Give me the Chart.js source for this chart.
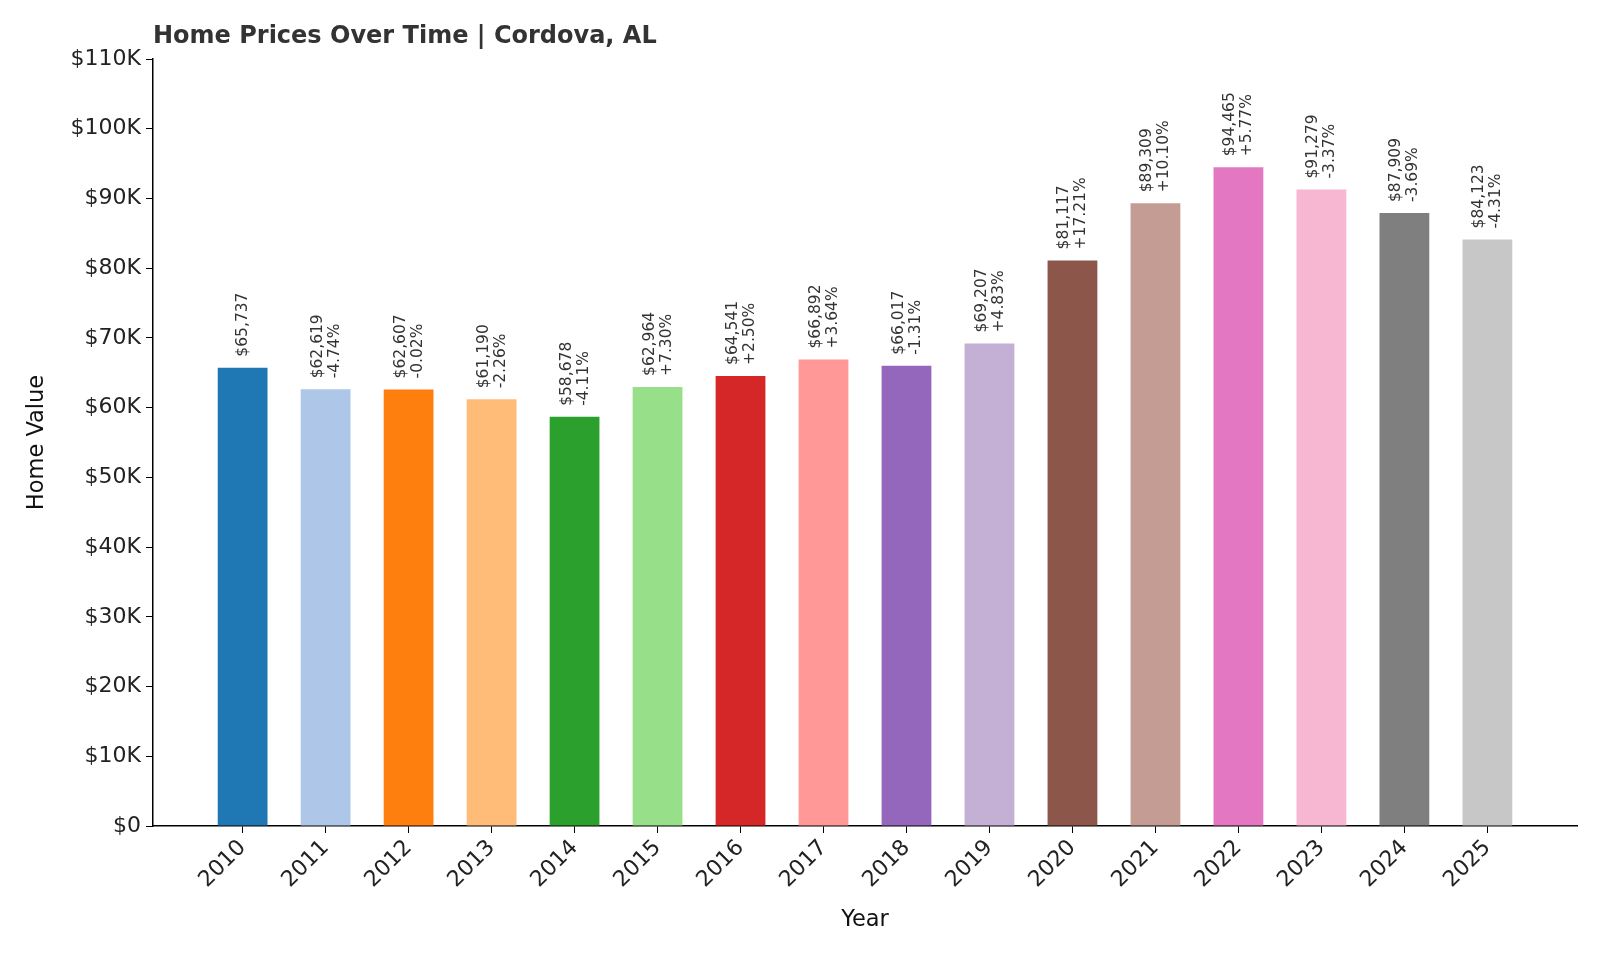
<!DOCTYPE html>
<html><head><meta charset="utf-8">
<script src="https://cdn.jsdelivr.net/npm/chart.js@4/dist/chart.umd.min.js"></script>
<style>html,body{margin:0;padding:0;background:#fff}</style>
</head><body>
<canvas id="c" width="1600" height="960" style="width:1600px;height:960px"></canvas>
<script>
const years = ["2010","2011","2012","2013","2014","2015","2016","2017","2018","2019","2020","2021","2022","2023","2024","2025"];
const values = [65737,62619,62607,61190,58678,62964,64541,66892,66017,69207,81117,89309,94465,91279,87909,84123];
const changes = ["","-4.74%","-0.02%","-2.26%","-4.11%","+7.30%","+2.50%","+3.64%","-1.31%","+4.83%","+17.21%","+10.10%","+5.77%","-3.37%","-3.69%","-4.31%"];
const colors = ["#1f77b4","#aec7e8","#ff7f0e","#ffbb78","#2ca02c","#98df8a","#d62728","#ff9896","#9467bd","#c5b0d5","#8c564b","#c49c94","#e377c2","#f7b6d2","#7f7f7f","#c7c7c7"];
const FONT = "'DejaVu Sans', sans-serif";

const labelsPlugin = {
  id: 'lbl',
  afterDatasetsDraw(chart) {
    const ctx = chart.ctx, xs = chart.scales.x, ys = chart.scales.y;
    ctx.save();
    ctx.fillStyle = '#333';
    ctx.font = '15.5px ' + FONT;
    ctx.textAlign = 'left'; ctx.textBaseline = 'middle';
    values.forEach((v, i) => {
      const x = xs.getPixelForValue(i), y = ys.getPixelForValue(v) - 11;
      const t1 = '$' + v.toLocaleString('en-US');
      ctx.save(); ctx.translate(x, y); ctx.rotate(-Math.PI / 2);
      if (changes[i]) { ctx.fillText(t1, 0, -8); ctx.fillText(changes[i], 0, 9); }
      else ctx.fillText(t1, 0, 0);
      ctx.restore();
    });
    ctx.fillStyle = '#333';
    ctx.font = 'bold 24px ' + FONT;
    ctx.textAlign = 'left'; ctx.textBaseline = 'middle';
    ctx.fillText('Home Prices Over Time | Cordova, AL', 153, 37);
    ctx.fillStyle = '#111';
    ctx.font = '22.5px ' + FONT;
    ctx.textAlign = 'center';
    ctx.fillText('Year', (xs.left + xs.right) / 2, 920);
    ctx.save(); ctx.translate(37, (ys.top + ys.bottom) / 2); ctx.rotate(-Math.PI / 2);
    ctx.fillText('Home Value', 0, 0); ctx.restore();
    ctx.restore();
  }
};

new Chart(document.getElementById('c'), {
  type: 'bar',
  data: { datasets: [{ data: values.map((v, i) => ({ x: i, y: v })), backgroundColor: colors, barPercentage: 0.6, categoryPercentage: 1 }] },
  options: {
    responsive: false, animation: false,
    layout: { padding: { top: 59, right: 23, left: 0, bottom: 0 } },
    plugins: { legend: { display: false }, tooltip: { enabled: false } },
    scales: {
      x: {
        type: 'linear', min: -1.08, max: 16.08, offset: false,
        afterBuildTicks: s => { s.ticks = years.map((y, i) => ({ value: i })); },
        afterFit: s => { s.height = 134; },
        ticks: { callback: v => years[v] ?? '', maxRotation: 45, minRotation: 45, color: '#222', font: { size: 22, family: FONT }, padding: 2, autoSkip: false },
        grid: { offset: false, drawOnChartArea: false, color: '#000', tickLength: 7, tickColor: '#000' },
        border: { color: '#000', width: 1.5 }
      },
      y: {
        min: 0, max: 110000,
        afterBuildTicks: s => { s.ticks = []; for (let v = 0; v <= 110000; v += 10000) s.ticks.push({ value: v }); },
        afterFit: s => { s.width = 153; },
        ticks: { callback: v => v === 0 ? '$0' : '$' + (v / 1000) + 'K', color: '#222', font: { size: 22, family: FONT }, padding: 5 },
        grid: { offset: false, drawOnChartArea: false, color: '#000', tickLength: 7, tickColor: '#000' },
        border: { color: '#000', width: 1.5 }
      }
    }
  },
  plugins: [labelsPlugin]
});
</script>
</body></html>
